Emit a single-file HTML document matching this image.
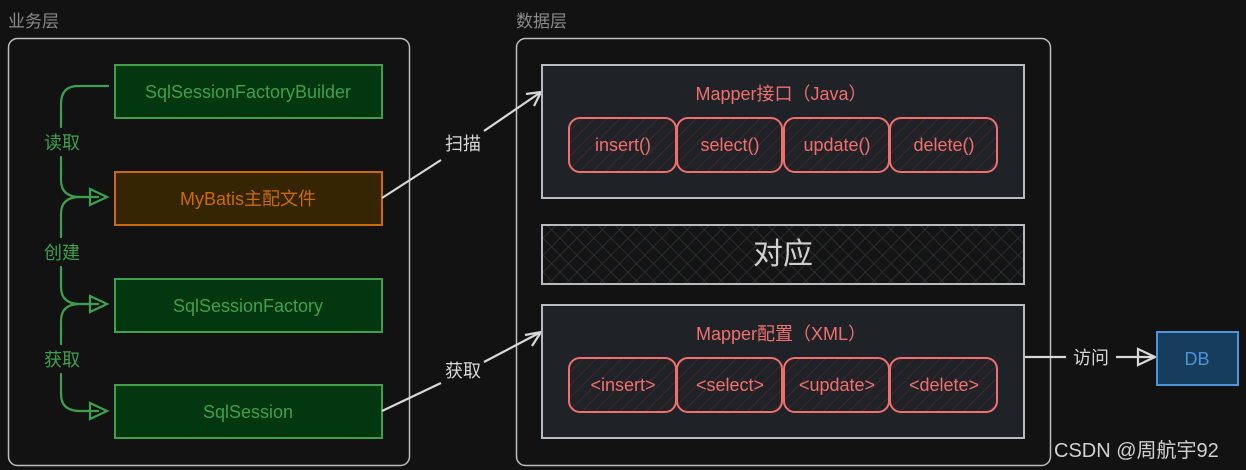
<!DOCTYPE html>
<html><head><meta charset="utf-8"><style>
html,body{margin:0;padding:0;background:#121212;}
svg{display:block;}
text{font-family:"Liberation Sans","Noto Sans CJK SC",sans-serif;}
</style></head><body>
<svg width="1246" height="470" viewBox="0 0 1246 470" xmlns="http://www.w3.org/2000/svg">
<defs>
<pattern id="hatch" patternUnits="userSpaceOnUse" width="9" height="9" patternTransform="rotate(45)">
<rect width="9" height="9" fill="#1f2226"/>
<line x1="0" y1="0" x2="0" y2="9" stroke="#5a2a2c" stroke-width="1.2"/>
</pattern>
<pattern id="cross" patternUnits="userSpaceOnUse" width="12" height="12" patternTransform="rotate(45)">
<rect width="12" height="12" fill="#141414"/>
<line x1="0" y1="0" x2="0" y2="12" stroke="#2e3236" stroke-width="1.6"/>
<line x1="0" y1="0" x2="12" y2="0" stroke="#2e3236" stroke-width="1.6"/>
</pattern>
</defs>
<rect width="1246" height="470" fill="#121212"/>
<text x="8" y="27" font-size="17" fill="#8a8a8a">业务层</text>
<text x="516" y="27" font-size="17" fill="#8a8a8a">数据层</text>
<rect x="8.5" y="38.5" width="401" height="427" rx="9" fill="none" stroke="#bdbdbd" stroke-width="1.5"/>
<rect x="516.5" y="38.5" width="534" height="427" rx="9" fill="none" stroke="#bdbdbd" stroke-width="1.5"/>

<g font-size="18" text-anchor="middle">
<rect x="115" y="65" width="267" height="53" fill="#033710" stroke="#3ea04e" stroke-width="2"/>
<text x="248" y="98" fill="#3ea04e">SqlSessionFactoryBuilder</text>
<rect x="115" y="172" width="267" height="53" fill="#352503" stroke="#cc6a06" stroke-width="2"/>
<text x="248" y="205" fill="#cc6a06">MyBatis主配文件</text>
<rect x="115" y="279" width="267" height="53" fill="#033710" stroke="#3ea04e" stroke-width="2"/>
<text x="248" y="312" fill="#3ea04e">SqlSessionFactory</text>
<rect x="115" y="385" width="267" height="53" fill="#033710" stroke="#3ea04e" stroke-width="2"/>
<text x="248" y="418" fill="#3ea04e">SqlSession</text>
</g>

<g fill="none" stroke="#3ea04e" stroke-width="2.2" stroke-linecap="round">
<path d="M108 86 H78 Q61 86 61 104 V127"/>
<path d="M61 157 V180 Q61 197 80 197 H98"/>
<path d="M80 197 Q61 197 61 214 V237"/>
<path d="M61 267 V287 Q61 304 80 304 H98"/>
<path d="M80 304 Q61 304 61 321 V344"/>
<path d="M61 374 V394 Q61 411 80 411 H98"/>
<path d="M90 189 L107 197 L90 205 Z M90 296 L107 304 L90 312 Z M90 403 L107 411 L90 419 Z"/>
</g>
<g font-size="18" fill="#3ea04e" text-anchor="middle">
<text x="62" y="149">读取</text>
<text x="62" y="259">创建</text>
<text x="62" y="366">获取</text>
</g>

<g stroke="#d8d8d8" stroke-width="2.2" fill="none">
<path d="M382 198 L441 160 M484 131 L541 92"/>
<path d="M526 94 L541 92 L534 106"/>
<path d="M382 411 L441 383 M484 362 L541 332"/>
<path d="M525 335 L541 332 L532 346"/>
<path d="M1024 357 H1066 M1116 357 H1155"/>
<path d="M1138 349 L1155 357 L1138 365 Z"/>
</g>
<g font-size="18" fill="#d8d8d8" text-anchor="middle">
<text x="463" y="150">扫描</text>
<text x="463" y="377">获取</text>
<text x="1091" y="364">访问</text>
</g>

<rect x="542" y="65" width="482" height="133" fill="#1f2226" stroke="#b8bbbf" stroke-width="2"/>
<text x="781" y="100" font-size="18" fill="#f07070" text-anchor="middle">Mapper接口（Java）</text>
<rect x="542" y="225" width="482" height="59" fill="url(#cross)" stroke="#b8bbbf" stroke-width="2"/>
<text x="783" y="264" font-size="30" fill="#d0d0d0" text-anchor="middle">对应</text>
<rect x="542" y="305" width="482" height="133" fill="#1f2226" stroke="#b8bbbf" stroke-width="2"/>
<text x="781" y="340" font-size="18" fill="#f07070" text-anchor="middle">Mapper配置（XML）</text>

<g stroke="#f07070" stroke-width="2" fill="url(#hatch)">
<rect x="569" y="118" width="107" height="54" rx="11"/>
<rect x="677" y="118" width="105" height="54" rx="11"/>
<rect x="784" y="118" width="105" height="54" rx="11"/>
<rect x="890" y="118" width="107" height="54" rx="11"/>
<rect x="569" y="358" width="107" height="54" rx="11"/>
<rect x="677" y="358" width="105" height="54" rx="11"/>
<rect x="784" y="358" width="105" height="54" rx="11"/>
<rect x="890" y="358" width="107" height="54" rx="11"/>
</g>
<g font-size="18" fill="#f07070" text-anchor="middle">
<text x="623" y="151">insert()</text>
<text x="730" y="151">select()</text>
<text x="837" y="151">update()</text>
<text x="944" y="151">delete()</text>
<text x="623" y="391">&lt;insert&gt;</text>
<text x="730" y="391">&lt;select&gt;</text>
<text x="837" y="391">&lt;update&gt;</text>
<text x="944" y="391">&lt;delete&gt;</text>
</g>

<rect x="1157" y="332" width="81" height="53" fill="#163d5c" stroke="#4a95dc" stroke-width="2"/>
<text x="1197" y="365" font-size="18" fill="#4a95dc" text-anchor="middle">DB</text>
<text x="1054" y="457" font-size="20" fill="#d0d0d0">CSDN @周航宇92</text>
</svg>
</body></html>
